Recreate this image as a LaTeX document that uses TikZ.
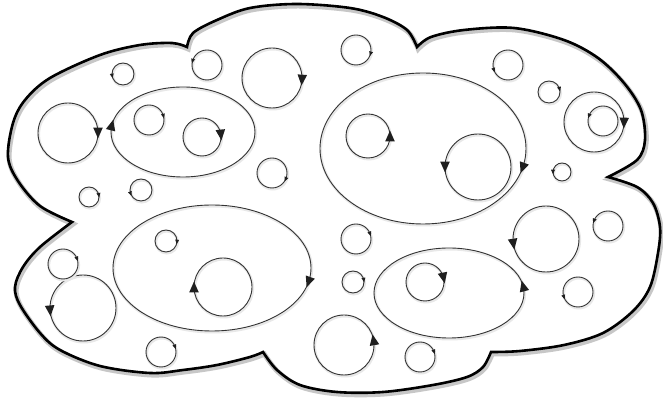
\documentclass[tikz,border=0pt]{standalone}
\usetikzlibrary{calc}
\tikzset{
  vline/.style={line width=0.9pt, draw=black!80},
  vshadow/.style={line width=2.6pt, draw=black!9},
  tipfill/.style={fill=black!88},
  cloudline/.style={line width=2.6pt, draw=black, line join=miter},
  cloudshadow/.style={line width=5pt, draw=black!22},
}
% #1 x, #2 y, #3 rx, #4 ry, #5 angle of tip, #6 0=ccw 180=cw, #7 tip scale
\newcommand{\vtx}[7]{%
  \draw[vshadow,shift={(0.8,-1.2)}] (#1,#2) ellipse [x radius=#3, y radius=#4];
  \draw[vline] (#1,#2) ellipse [x radius=#3, y radius=#4];
  \pgfmathsetmacro\vtxang{atan2(#4*cos(#5),-#3*sin(#5))+#6}
  \pgfmathsetmacro\vtxpx{#1+#3*cos(#5)}
  \pgfmathsetmacro\vtxpy{#2+#4*sin(#5)}
  \fill[tipfill,shift={(\vtxpx,\vtxpy)},rotate=\vtxang,scale=#7] (4.5,0) -- (-4.5,4) -- (-4.5,-4) -- cycle;
}
\def\cloudpath{plot[smooth,tension=0.55] coordinates {(72,176) (40,192) (18,217) (8,241) (13,275) (25,298) (50,320) (100,343) (140,353) (172,355) (187,351)}
 -- plot[smooth,tension=0.55] coordinates {(187,351) (193,365) (217,378) (250,390) (297,394) (350,390) (383,381) (407,368) (417,351)}
 -- plot[smooth,tension=0.55] coordinates {(417,351) (431,361) (464,368) (514,370) (564,358) (598,340) (624,315) (641,288) (645,258) (637,238) (608,221)}
 -- plot[smooth,tension=0.55] coordinates {(608,221) (637,211) (653,195) (660,171) (658,145) (650,111) (633,87) (603,65) (564,53) (520,47) (491,46)}
 -- plot[smooth,tension=0.55] coordinates {(491,46) (483,31) (467,21) (433,13) (383,6) (337,6) (300,13) (277,28) (263,46)}
 -- plot[smooth,tension=0.55] coordinates {(263,46) (250,41) (217,33) (183,28) (150,25) (100,32) (60,48) (40,65) (20,93) (15,111) (23,131) (40,151) (72,176)}
 -- cycle}
\begin{document}
\begin{tikzpicture}[x=1pt,y=1pt]
\useasboundingbox (0,0) rectangle (663,398);
\fill[white] (0,0) rectangle (663,398);
\fill[white] \cloudpath;
\draw[cloudshadow,shift={(1.2,-2)}] \cloudpath;
\draw[cloudline] \cloudpath;
% large vortices
\vtx{272}{320}{30}{30}{-4}{180}{1.2}
\vtx{68}{265}{30}{30}{0}{180}{1.2}
\vtx{183}{266}{72}{45}{171}{180}{1.2}
\vtx{202}{261}{19}{19}{6}{180}{1.2}
\vtx{423}{249.5}{103}{75.5}{-15}{180}{1.2}
\vtx{368}{262}{22}{22}{0}{0}{1.2}
\vtx{478}{231}{33}{33}{180}{0}{1.2}
\vtx{594}{276}{30}{30}{-2}{180}{1.2}
\vtx{212}{130}{99}{63}{-13}{180}{1.2}
\vtx{223}{111}{29}{29}{180}{180}{1.2}
\vtx{83}{90}{33}{33}{185}{0}{1.2}
\vtx{344}{53}{30}{30}{10}{0}{1.2}
\vtx{449}{105}{75}{45}{9}{0}{1.2}
\vtx{425}{116}{19}{19}{12}{180}{1.2}
\vtx{546}{159}{33}{33}{189}{0}{1.2}
% small vortices
\vtx{123}{324}{11}{11}{190}{0}{0.5}
\vtx{207}{333}{15}{15}{165}{0}{0.5}
\vtx{149}{278}{15}{15}{15}{180}{0.5}
\vtx{272}{225}{15}{15}{-25}{180}{0.5}
\vtx{89}{201}{10}{10}{10}{180}{0.5}
\vtx{141}{208}{11}{11}{200}{0}{0.5}
\vtx{356}{348}{15}{15}{-15}{180}{0.5}
\vtx{508}{333}{15}{15}{200}{0}{0.5}
\vtx{549}{306}{11}{11}{15}{180}{0.5}
\vtx{603}{277}{15}{15}{160}{0}{0.5}
\vtx{562}{226}{9}{9}{180}{0}{0.5}
\vtx{166}{157}{11}{11}{-5}{180}{0.5}
\vtx{63}{134}{15}{15}{20}{180}{0.5}
\vtx{161}{46}{15}{15}{20}{180}{0.5}
\vtx{356}{159}{15}{15}{20}{180}{0.5}
\vtx{353}{116}{11}{11}{10}{180}{0.5}
\vtx{420}{41}{15}{15}{20}{180}{0.5}
\vtx{608}{172}{15}{15}{160}{0}{0.5}
\vtx{578}{106}{15}{15}{200}{0}{0.5}
\end{tikzpicture}
\end{document}
